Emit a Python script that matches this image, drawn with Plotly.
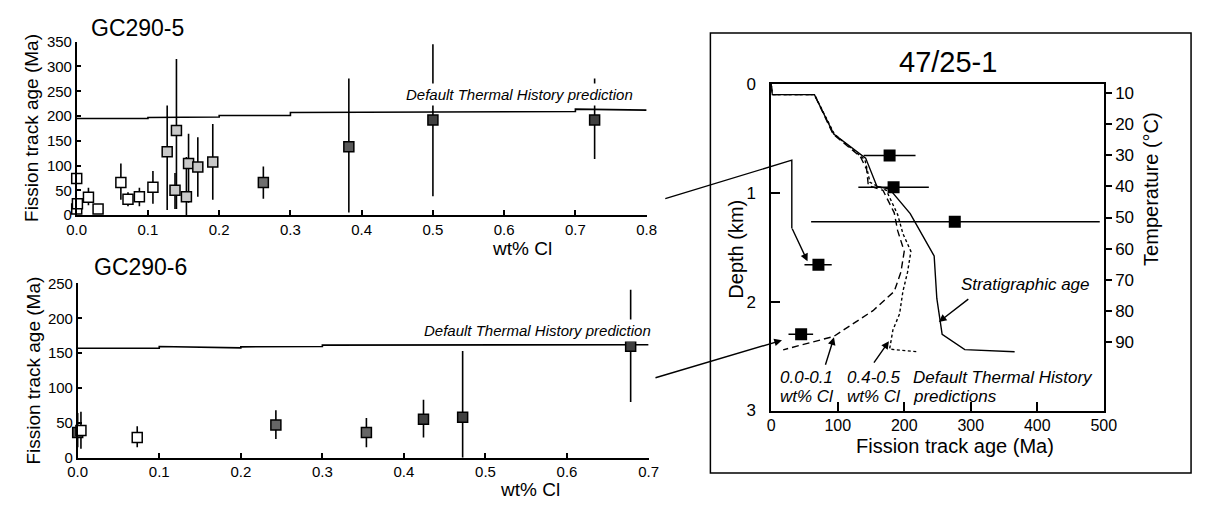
import plotly.graph_objects as go

W, H = 1207, 512
def fx(p): return p / W
def fy(p): return 1 - p / H

FONT = "Liberation Sans, Arial, sans-serif"

# ---------------- GC290-5 ----------------
cl5 = [0.000, 0.000, 0.001, 0.0165, 0.030, 0.062, 0.072, 0.088, 0.107, 0.127,
       0.140, 0.138, 0.154, 0.157, 0.170, 0.191, 0.262, 0.382, 0.500, 0.727]
age5 = [74, 12, 23, 36, 12, 66, 32, 37, 56, 128, 171, 50, 37, 104, 97, 107, 66, 138, 192, 192]
hi5 = [74, 12, 23, 55, 12, 104, 46, 55, 89, 221, 315, 85, 117, 164, 157, 184, 98, 276, 345, 276]
lo5 = [74, 12, 23, 20, 12, 31, 18, 18, 23, 10, 12, 12, 0, 25, 37, 31, 33, 5, 38, 113]
col5 = ["#ffffff"] * 9 + ["#c8c8c8"] * 7 + ["#6e6e6e", "#5a5a5a", "#404040", "#404040"]
pred5_cl = [0, 0.1, 0.1, 0.2, 0.2, 0.3, 0.3, 0.7, 0.7, 0.8]
pred5_age = [195, 195, 197, 198, 201, 201, 207, 209, 214, 212]

# ---------------- GC290-6 ----------------
cl6 = [0.000, 0.004, 0.073, 0.243, 0.354, 0.424, 0.472, 0.678]
age6 = [36, 39, 29, 47, 36, 55, 58, 160]
hi6 = [64, 66, 45, 68, 57, 83, 153, 241]
lo6 = [15, 13, 15, 27, 15, 29, 0, 80]
col6 = ["#555555", "#ffffff", "#ffffff", "#666666", "#666666", "#404040", "#404040", "#404040"]
pred6_cl = [0, 0.1, 0.1, 0.2, 0.2, 0.3, 0.3, 0.7]
pred6_age = [157, 157, 159.5, 157.5, 159, 159.5, 161.5, 162]

# ---------------- 47/25-1 ----------------
ft_age = [178, 184, 276, 71, 45]
ft_depth = [0.655, 0.947, 1.265, 1.66, 2.30]
ft_lo = [139, 131, 60, 50, 26]
ft_hi = [217, 237, 494, 91, 63]
strat_age = [0, 1.5, 65, 94, 142, 159, 178, 209, 245, 249, 257, 291, 366]
strat_depth = [0, 0.097, 0.097, 0.46, 0.68, 0.94, 0.965, 1.19, 1.58, 1.97, 2.30, 2.44, 2.46]
ld_age = [0, 1.5, 65, 93, 134, 143.5, 146, 168, 185, 190, 200, 195, 185, 153, 94, 18]
ld_depth = [0, 0.097, 0.097, 0.46, 0.666, 0.785, 0.932, 0.976, 1.183, 1.345, 1.537, 1.728,
            1.905, 2.082, 2.319, 2.442]
sd_age = [0, 1.5, 65, 95, 141, 148.5, 173, 190, 198, 210, 205, 198, 193, 183, 178, 220]
sd_depth = [0, 0.097, 0.097, 0.46, 0.696, 0.903, 0.976, 1.197, 1.374, 1.537, 1.728, 1.905,
            2.112, 2.259, 2.436, 2.46]
temp_ticks = [10, 20, 30, 40, 50, 60, 70, 80, 90]
depth_ticks = [0, 1, 2, 3]
age_ticks = [0, 100, 200, 300, 400, 500]
cl5_ticks = [0, 0.1, 0.2, 0.3, 0.4, 0.5, 0.6, 0.7, 0.8]
cl6_ticks = [0, 0.1, 0.2, 0.3, 0.4, 0.5, 0.6, 0.7]
age5_ticks = [0, 50, 100, 150, 200, 250, 300, 350]
age6_ticks = [0, 50, 100, 150, 200, 250]

fig = go.Figure()

def err(vals, hi, lo):
    return dict(type="data", symmetric=False,
                array=[h - v for v, h in zip(vals, hi)],
                arrayminus=[v - l for v, l in zip(vals, lo)],
                width=0, thickness=1.6, color="black")

# top-left
fig.add_trace(go.Scatter(x=pred5_cl, y=pred5_age, mode="lines",
                         line=dict(color="black", width=1.6), xaxis="x", yaxis="y",
                         showlegend=False, cliponaxis=False))
fig.add_trace(go.Scatter(x=cl5, y=age5, mode="markers", xaxis="x", yaxis="y",
                         marker=dict(symbol="square", size=10, color=col5,
                                     line=dict(color="black", width=1.5)),
                         error_y=err(age5, hi5, lo5), showlegend=False, cliponaxis=False))
# bottom-left
fig.add_trace(go.Scatter(x=pred6_cl, y=pred6_age, mode="lines",
                         line=dict(color="black", width=1.6), xaxis="x2", yaxis="y2",
                         showlegend=False, cliponaxis=False))
fig.add_trace(go.Scatter(x=cl6, y=age6, mode="markers", xaxis="x2", yaxis="y2",
                         marker=dict(symbol="square", size=10, color=col6,
                                     line=dict(color="black", width=1.5)),
                         error_y=err(age6, hi6, lo6), showlegend=False, cliponaxis=False))
# right
fig.add_trace(go.Scatter(x=strat_age, y=strat_depth, mode="lines", xaxis="x3", yaxis="y3",
                         line=dict(color="black", width=1.4), showlegend=False))
fig.add_trace(go.Scatter(x=ld_age, y=ld_depth, mode="lines", xaxis="x3", yaxis="y3",
                         line=dict(color="black", width=1.4, dash="7px,4px"), showlegend=False))
fig.add_trace(go.Scatter(x=sd_age, y=sd_depth, mode="lines", xaxis="x3", yaxis="y3",
                         line=dict(color="black", width=1.4, dash="3px,2.5px"), showlegend=False))
fig.add_trace(go.Scatter(x=ft_age, y=ft_depth, mode="markers", xaxis="x3", yaxis="y3",
                         marker=dict(symbol="square", size=12, color="black"),
                         error_x=dict(type="data", symmetric=False,
                                      array=[h - a for a, h in zip(ft_age, ft_hi)],
                                      arrayminus=[a - l for a, l in zip(ft_age, ft_lo)],
                                      width=0, thickness=1.5, color="black"),
                         showlegend=False))
fig.add_trace(go.Scatter(x=[None], y=[None], xaxis="x3", yaxis="y4", showlegend=False))

ax_common = dict(showline=True, linecolor="black", linewidth=1.5, showgrid=False,
                 zeroline=False, ticks="inside", tickcolor="black", tickwidth=1.5,
                 tickfont=dict(size=15, family=FONT, color="black"))

fig.update_layout(
    width=W, height=H, margin=dict(l=0, r=0, t=0, b=0),
    paper_bgcolor="white", plot_bgcolor="white",
    font=dict(family=FONT, color="black"),
    xaxis=dict(ax_common, domain=[fx(68), fx(649)], range=[0, 0.8], anchor="y",
               tickvals=cl5_ticks, ticktext=[f"{v:.1f}" for v in cl5_ticks], ticklen=5),
    yaxis=dict(ax_common, domain=[fy(214), fy(34)], range=[0, 350], anchor="x",
               tickvals=age5_ticks, ticklen=5),
    xaxis2=dict(ax_common, domain=[fx(69), fx(651)], range=[0, 0.7], anchor="y2",
                tickvals=cl6_ticks, ticktext=[f"{v:.1f}" for v in cl6_ticks], ticklen=5),
    yaxis2=dict(ax_common, domain=[fy(466), fy(285)], range=[0, 250], anchor="x2",
                tickvals=age6_ticks, ticklen=5),
    xaxis3=dict(ax_common, domain=[fx(776), fx(1115)], range=[0, 500], anchor="y3",
                tickvals=age_ticks, ticklen=9, mirror=True,
                tickfont=dict(size=16, family=FONT, color="black")),
    yaxis3=dict(ax_common, domain=[fy(417), fy(78)], range=[3, 0], anchor="x3",
                tickvals=depth_ticks, ticklen=9, mirror=True, ticklabelstandoff=10,
                tickfont=dict(size=17, family=FONT, color="black")),
    yaxis4=dict(overlaying="y3", side="right", anchor="x3", range=[111.9, 7.22],
                tickvals=temp_ticks, ticks="outside", ticklen=7, tickwidth=1.5,
                tickcolor="black", showline=False, showgrid=False, zeroline=False,
                tickfont=dict(size=17, family=FONT, color="black")),
)

shapes = [
    dict(type="rect", xref="paper", yref="paper", x0=fx(714), x1=fx(1204),
         y0=fy(482), y1=fy(25), line=dict(color="black", width=1.5)),
    dict(type="path", xref="paper", yref="paper",
         path=f"M {fx(668)},{fy(197)} L {fx(797)},{fy(157)} L {fx(797)},{fy(228)}",
         line=dict(color="black", width=1.4)),
]
fig.update_layout(shapes=shapes)

anns = []
def txt(x, y, s, size, angle=0, italic=False, xanchor="center", bg=None):
    d = dict(x=fx(x), y=fy(y), xref="paper", yref="paper", text=s, showarrow=False,
             textangle=angle, xanchor=xanchor, yanchor="middle",
             font=dict(size=size, family=FONT, color="black",
                       style="italic" if italic else "normal"))
    if bg:
        d.update(bgcolor=bg, borderpad=2)
    anns.append(d)

txt(130, 20, "GC290-5", 23)
txt(133, 268, "GC290-6", 23)
txt(956, 55, "47/25-1", 29)
txt(22, 124, "Fission track age (Ma)", 19, angle=-90)
txt(23, 376, "Fission track age (Ma)", 19, angle=-90)
txt(522, 249, "wt% Cl", 19)
txt(530, 499, "wt% Cl", 19)
txt(963, 454, "Fission track age (Ma)", 20)
txt(740, 249, "Depth (km)", 20, angle=-90)
txt(1163, 187, "Temperature (°C)", 20, angle=-90)
txt(519, 89, "Default Thermal History prediction", 15, italic=True, bg="white")
txt(538, 334, "Default Thermal History prediction", 15, italic=True, bg="white")
txt(1035, 286, "Stratigraphic age", 17, italic=True)
txt(783, 383, "0.0-0.1", 17, italic=True, xanchor="left")
txt(783, 402, "wt% Cl", 17, italic=True, xanchor="left")
txt(851, 383, "0.4-0.5", 17, italic=True, xanchor="left")
txt(851, 402, "wt% Cl", 17, italic=True, xanchor="left")
txt(918, 383, "Default Thermal History", 17, italic=True, xanchor="left")
txt(918, 402, "predictions", 17, italic=True, xanchor="left")

def arrow(age, depth, ax, ay):
    anns.append(dict(x=age, y=depth, xref="x3", yref="y3", ax=ax, ay=ay,
                     axref="pixel", ayref="pixel", text="", showarrow=True,
                     arrowhead=2, arrowsize=1.1, arrowwidth=1.4, arrowcolor="black"))

arrow(54.6, 1.628, -16, -34)
arrow(16.2, 2.354, -128, 38)
arrow(252, 2.186, 31, -24)
arrow(94.4, 2.327, -9, 29)
arrow(177, 2.363, -16, 23)

fig.update_layout(annotations=anns)
fig.write_html("out.html")
